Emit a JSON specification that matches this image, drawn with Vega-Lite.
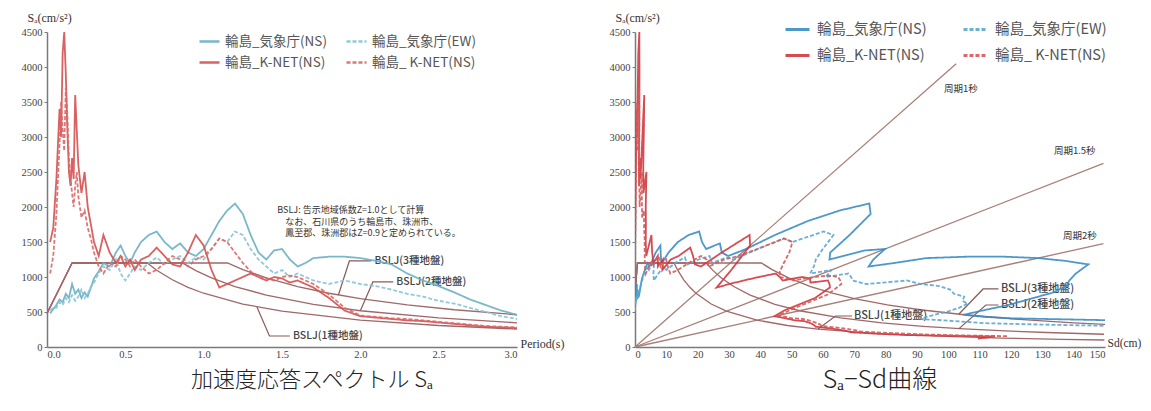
{
"$schema":"https://vega.github.io/schema/vega-lite/v6.json",
"background":"white",
"padding":{"left":21,"top":11,"right":0,"bottom":0},
"spacing":45,
"config":{"view":{"stroke":null},
"axis":{"domainColor":"#7a7a7a","domainWidth":1.5,"tickColor":"#7a7a7a","tickSize":3,"labelFont":"Liberation Serif","labelFontSize":10.5,"labelColor":"#444","grid":false,"titleFont":"Liberation Serif","titleFontSize":12,"titleFontWeight":"normal","titleColor":"#333","labelPadding":2}},
"datasets":{
"sp":[
{"s":"JN","T":0.02,"Sa":480,"Sd":0.005},{"s":"JN","T":0.04,"Sa":540,"Sd":0.022},{"s":"JN","T":0.06,"Sa":600,"Sd":0.055},{"s":"JN","T":0.08,"Sa":680,"Sd":0.11},{"s":"JN","T":0.10,"Sa":640,"Sd":0.162},{"s":"JN","T":0.12,"Sa":760,"Sd":0.277},{"s":"JN","T":0.14,"Sa":700,"Sd":0.347},{"s":"JN","T":0.16,"Sa":900,"Sd":0.583},{"s":"JN","T":0.18,"Sa":760,"Sd":0.624},{"s":"JN","T":0.20,"Sa":820,"Sd":0.831},{"s":"JN","T":0.22,"Sa":700,"Sd":0.858},{"s":"JN","T":0.24,"Sa":780,"Sd":1.138},{"s":"JN","T":0.26,"Sa":720,"Sd":1.233},{"s":"JN","T":0.28,"Sa":850,"Sd":1.688},{"s":"JN","T":0.30,"Sa":980,"Sd":2.234},{"s":"JN","T":0.33,"Sa":1080,"Sd":2.979},{"s":"JN","T":0.36,"Sa":1200,"Sd":3.94},{"s":"JN","T":0.40,"Sa":1150,"Sd":4.661},{"s":"JN","T":0.44,"Sa":1350,"Sd":6.62},{"s":"JN","T":0.47,"Sa":1450,"Sd":8.114},{"s":"JN","T":0.50,"Sa":1300,"Sd":8.233},{"s":"JN","T":0.53,"Sa":1200,"Sd":8.538},{"s":"JN","T":0.56,"Sa":1350,"Sd":10.72},{"s":"JN","T":0.60,"Sa":1500,"Sd":13.68},{"s":"JN","T":0.65,"Sa":1600,"Sd":17.12},{"s":"JN","T":0.70,"Sa":1650,"Sd":20.48},{"s":"JN","T":0.75,"Sa":1500,"Sd":21.37},{"s":"JN","T":0.80,"Sa":1400,"Sd":22.7},{"s":"JN","T":0.85,"Sa":1480,"Sd":27.09},{"s":"JN","T":0.90,"Sa":1350,"Sd":27.7},{"s":"JN","T":0.95,"Sa":1300,"Sd":29.72},{"s":"JN","T":1.00,"Sa":1400,"Sd":35.46},{"s":"JN","T":1.05,"Sa":1600,"Sd":44.68},{"s":"JN","T":1.10,"Sa":1800,"Sd":55.17},{"s":"JN","T":1.15,"Sa":1950,"Sd":65.33},{"s":"JN","T":1.20,"Sa":2050,"Sd":74.78},{"s":"JN","T":1.25,"Sa":1900,"Sd":75.2},{"s":"JN","T":1.30,"Sa":1600,"Sd":68.49},{"s":"JN","T":1.35,"Sa":1350,"Sd":62.32},{"s":"JN","T":1.40,"Sa":1250,"Sd":62.06},{"s":"JN","T":1.45,"Sa":1380,"Sd":73.5},{"s":"JN","T":1.50,"Sa":1400,"Sd":79.79},{"s":"JN","T":1.55,"Sa":1250,"Sd":76.07},{"s":"JN","T":1.60,"Sa":1150,"Sd":74.57},{"s":"JN","T":1.65,"Sa":1200,"Sd":82.76},{"s":"JN","T":1.70,"Sa":1270,"Sd":92.97},{"s":"JN","T":1.80,"Sa":1290,"Sd":105.87},{"s":"JN","T":1.90,"Sa":1290,"Sd":117.96},{"s":"JN","T":2.00,"Sa":1270,"Sd":128.68},{"s":"JN","T":2.10,"Sa":1230,"Sd":137.4},{"s":"JN","T":2.20,"Sa":1180,"Sd":144.67},{"s":"JN","T":2.30,"Sa":1050,"Sd":140.7},{"s":"JN","T":2.40,"Sa":950,"Sd":138.61},{"s":"JN","T":2.50,"Sa":870,"Sd":137.73},{"s":"JN","T":2.60,"Sa":780,"Sd":133.56},{"s":"JN","T":2.70,"Sa":680,"Sd":125.57},{"s":"JN","T":2.80,"Sa":600,"Sd":119.15},{"s":"JN","T":2.90,"Sa":520,"Sd":110.78},{"s":"JN","T":3.00,"Sa":460,"Sd":104.87},{"s":"JN","T":3.20,"Sa":430,"Sd":111.54},{"s":"JN","T":3.40,"Sa":410,"Sd":120.06},{"s":"JN","T":3.60,"Sa":400,"Sd":131.31},{"s":"JN","T":3.80,"Sa":390,"Sd":142.65},{"s":"JN","T":4.00,"Sa":380,"Sd":154.01},
{"s":"JE","T":0.02,"Sa":520,"Sd":0.005},{"s":"JE","T":0.04,"Sa":560,"Sd":0.023},{"s":"JE","T":0.06,"Sa":560,"Sd":0.051},{"s":"JE","T":0.08,"Sa":640,"Sd":0.104},{"s":"JE","T":0.10,"Sa":600,"Sd":0.152},{"s":"JE","T":0.12,"Sa":700,"Sd":0.256},{"s":"JE","T":0.14,"Sa":640,"Sd":0.317},{"s":"JE","T":0.16,"Sa":740,"Sd":0.48},{"s":"JE","T":0.18,"Sa":660,"Sd":0.542},{"s":"JE","T":0.20,"Sa":720,"Sd":0.729},{"s":"JE","T":0.22,"Sa":820,"Sd":1.005},{"s":"JE","T":0.24,"Sa":700,"Sd":1.021},{"s":"JE","T":0.26,"Sa":760,"Sd":1.301},{"s":"JE","T":0.28,"Sa":860,"Sd":1.708},{"s":"JE","T":0.30,"Sa":920,"Sd":2.098},{"s":"JE","T":0.33,"Sa":1050,"Sd":2.896},{"s":"JE","T":0.36,"Sa":1150,"Sd":3.775},{"s":"JE","T":0.40,"Sa":1100,"Sd":4.458},{"s":"JE","T":0.44,"Sa":1250,"Sd":6.13},{"s":"JE","T":0.47,"Sa":1050,"Sd":5.876},{"s":"JE","T":0.50,"Sa":950,"Sd":6.016},{"s":"JE","T":0.53,"Sa":1050,"Sd":7.471},{"s":"JE","T":0.56,"Sa":1150,"Sd":9.136},{"s":"JE","T":0.60,"Sa":1100,"Sd":10.03},{"s":"JE","T":0.65,"Sa":1200,"Sd":12.84},{"s":"JE","T":0.70,"Sa":1280,"Sd":15.89},{"s":"JE","T":0.75,"Sa":1180,"Sd":16.81},{"s":"JE","T":0.80,"Sa":1250,"Sd":20.26},{"s":"JE","T":0.85,"Sa":1300,"Sd":23.79},{"s":"JE","T":0.90,"Sa":1200,"Sd":24.62},{"s":"JE","T":0.95,"Sa":1280,"Sd":29.26},{"s":"JE","T":1.00,"Sa":1250,"Sd":31.66},{"s":"JE","T":1.05,"Sa":1400,"Sd":39.1},{"s":"JE","T":1.10,"Sa":1550,"Sd":47.51},{"s":"JE","T":1.15,"Sa":1500,"Sd":50.25},{"s":"JE","T":1.20,"Sa":1650,"Sd":60.19},{"s":"JE","T":1.25,"Sa":1600,"Sd":63.33},{"s":"JE","T":1.30,"Sa":1400,"Sd":59.93},{"s":"JE","T":1.35,"Sa":1250,"Sd":57.71},{"s":"JE","T":1.40,"Sa":1150,"Sd":57.1},{"s":"JE","T":1.45,"Sa":1050,"Sd":55.92},{"s":"JE","T":1.50,"Sa":1100,"Sd":62.69},{"s":"JE","T":1.55,"Sa":1000,"Sd":60.86},{"s":"JE","T":1.60,"Sa":1050,"Sd":68.09},{"s":"JE","T":1.65,"Sa":1000,"Sd":68.96},{"s":"JE","T":1.70,"Sa":950,"Sd":69.54},{"s":"JE","T":1.80,"Sa":900,"Sd":73.86},{"s":"JE","T":1.90,"Sa":950,"Sd":86.87},{"s":"JE","T":2.00,"Sa":900,"Sd":91.19},{"s":"JE","T":2.10,"Sa":870,"Sd":97.19},{"s":"JE","T":2.20,"Sa":820,"Sd":100.53},{"s":"JE","T":2.30,"Sa":760,"Sd":101.84},{"s":"JE","T":2.40,"Sa":720,"Sd":105.05},{"s":"JE","T":2.50,"Sa":660,"Sd":104.49},{"s":"JE","T":2.60,"Sa":620,"Sd":106.17},{"s":"JE","T":2.70,"Sa":560,"Sd":103.41},{"s":"JE","T":2.80,"Sa":500,"Sd":99.3},{"s":"JE","T":2.90,"Sa":440,"Sd":93.73},{"s":"JE","T":3.00,"Sa":400,"Sd":91.19},{"s":"JE","T":3.20,"Sa":380,"Sd":98.57},{"s":"JE","T":3.40,"Sa":360,"Sd":105.42},{"s":"JE","T":3.60,"Sa":340,"Sd":111.62},{"s":"JE","T":3.80,"Sa":330,"Sd":120.71},{"s":"JE","T":4.00,"Sa":320,"Sd":129.69},{"s":"JE","T":4.50,"Sa":300,"Sd":153.88},
{"s":"KN","T":0.02,"Sa":1500,"Sd":0.015},{"s":"KN","T":0.04,"Sa":1700,"Sd":0.069},{"s":"KN","T":0.06,"Sa":2400,"Sd":0.219},{"s":"KN","T":0.08,"Sa":3400,"Sd":0.551},{"s":"KN","T":0.09,"Sa":3000,"Sd":0.616},{"s":"KN","T":0.10,"Sa":4200,"Sd":1.063},{"s":"KN","T":0.11,"Sa":4500,"Sd":1.379},{"s":"KN","T":0.12,"Sa":3900,"Sd":1.424},{"s":"KN","T":0.13,"Sa":3100,"Sd":1.327},{"s":"KN","T":0.14,"Sa":2500,"Sd":1.24},{"s":"KN","T":0.15,"Sa":2300,"Sd":1.311},{"s":"KN","T":0.16,"Sa":2700,"Sd":1.75},{"s":"KN","T":0.17,"Sa":2400,"Sd":1.757},{"s":"KN","T":0.18,"Sa":3600,"Sd":2.956},{"s":"KN","T":0.19,"Sa":3100,"Sd":2.835},{"s":"KN","T":0.20,"Sa":2600,"Sd":2.634},{"s":"KN","T":0.22,"Sa":2200,"Sd":2.697},{"s":"KN","T":0.24,"Sa":2500,"Sd":3.648},{"s":"KN","T":0.26,"Sa":2000,"Sd":3.424},{"s":"KN","T":0.28,"Sa":1750,"Sd":3.476},{"s":"KN","T":0.30,"Sa":1500,"Sd":3.42},{"s":"KN","T":0.33,"Sa":1300,"Sd":3.585},{"s":"KN","T":0.36,"Sa":1600,"Sd":5.253},{"s":"KN","T":0.40,"Sa":1350,"Sd":5.472},{"s":"KN","T":0.44,"Sa":1200,"Sd":5.885},{"s":"KN","T":0.47,"Sa":1300,"Sd":7.275},{"s":"KN","T":0.50,"Sa":1150,"Sd":7.283},{"s":"KN","T":0.53,"Sa":1250,"Sd":8.894},{"s":"KN","T":0.56,"Sa":1100,"Sd":8.738},{"s":"KN","T":0.60,"Sa":1250,"Sd":11.4},{"s":"KN","T":0.65,"Sa":1300,"Sd":13.91},{"s":"KN","T":0.70,"Sa":1420,"Sd":17.63},{"s":"KN","T":0.75,"Sa":1300,"Sd":18.52},{"s":"KN","T":0.80,"Sa":1180,"Sd":19.13},{"s":"KN","T":0.85,"Sa":1150,"Sd":21.05},{"s":"KN","T":0.90,"Sa":1350,"Sd":27.7},{"s":"KN","T":0.95,"Sa":1600,"Sd":36.58},{"s":"KN","T":1.00,"Sa":1450,"Sd":36.73},{"s":"KN","T":1.05,"Sa":1100,"Sd":30.72},{"s":"KN","T":1.10,"Sa":850,"Sd":26.05},{"s":"KN","T":1.15,"Sa":900,"Sd":30.15},{"s":"KN","T":1.20,"Sa":950,"Sd":34.65},{"s":"KN","T":1.25,"Sa":1000,"Sd":39.58},{"s":"KN","T":1.30,"Sa":1050,"Sd":44.95},{"s":"KN","T":1.35,"Sa":1000,"Sd":46.17},{"s":"KN","T":1.40,"Sa":950,"Sd":47.17},{"s":"KN","T":1.45,"Sa":1000,"Sd":53.26},{"s":"KN","T":1.50,"Sa":980,"Sd":55.85},{"s":"KN","T":1.55,"Sa":920,"Sd":55.99},{"s":"KN","T":1.60,"Sa":950,"Sd":61.6},{"s":"KN","T":1.65,"Sa":900,"Sd":62.07},{"s":"KN","T":1.70,"Sa":850,"Sd":62.22},{"s":"KN","T":1.80,"Sa":700,"Sd":57.45},{"s":"KN","T":1.90,"Sa":520,"Sd":47.55},{"s":"KN","T":2.00,"Sa":440,"Sd":44.58},{"s":"KN","T":2.10,"Sa":420,"Sd":46.92},{"s":"KN","T":2.20,"Sa":400,"Sd":49.04},{"s":"KN","T":2.30,"Sa":380,"Sd":50.92},{"s":"KN","T":2.40,"Sa":370,"Sd":53.98},{"s":"KN","T":2.50,"Sa":350,"Sd":55.41},{"s":"KN","T":2.60,"Sa":330,"Sd":56.51},{"s":"KN","T":2.70,"Sa":310,"Sd":57.24},{"s":"KN","T":2.80,"Sa":290,"Sd":57.59},{"s":"KN","T":2.90,"Sa":280,"Sd":59.65},{"s":"KN","T":3.00,"Sa":270,"Sd":61.55},{"s":"KN","T":3.20,"Sa":250,"Sd":64.85},{"s":"KN","T":3.40,"Sa":230,"Sd":67.35},{"s":"KN","T":3.60,"Sa":210,"Sd":68.94},{"s":"KN","T":3.80,"Sa":200,"Sd":73.15},{"s":"KN","T":4.00,"Sa":190,"Sd":77.0},{"s":"KN","T":4.50,"Sa":170,"Sd":87.2},{"s":"KN","T":5.00,"Sa":160,"Sd":101.32},{"s":"KN","T":5.50,"Sa":150,"Sd":114.94},{"s":"KN","T":6.00,"Sa":120,"Sd":109.43},
{"s":"KE","T":0.02,"Sa":1050,"Sd":0.011},{"s":"KE","T":0.04,"Sa":1300,"Sd":0.053},{"s":"KE","T":0.06,"Sa":1900,"Sd":0.173},{"s":"KE","T":0.08,"Sa":2900,"Sd":0.47},{"s":"KE","T":0.09,"Sa":3500,"Sd":0.718},{"s":"KE","T":0.10,"Sa":3100,"Sd":0.784},{"s":"KE","T":0.11,"Sa":2800,"Sd":0.858},{"s":"KE","T":0.12,"Sa":3700,"Sd":1.351},{"s":"KE","T":0.13,"Sa":3300,"Sd":1.413},{"s":"KE","T":0.14,"Sa":2700,"Sd":1.339},{"s":"KE","T":0.15,"Sa":2400,"Sd":1.368},{"s":"KE","T":0.16,"Sa":2200,"Sd":1.426},{"s":"KE","T":0.17,"Sa":2000,"Sd":1.464},{"s":"KE","T":0.18,"Sa":2300,"Sd":1.888},{"s":"KE","T":0.19,"Sa":2500,"Sd":2.286},{"s":"KE","T":0.20,"Sa":2150,"Sd":2.178},{"s":"KE","T":0.22,"Sa":1850,"Sd":2.268},{"s":"KE","T":0.24,"Sa":1950,"Sd":2.845},{"s":"KE","T":0.26,"Sa":1700,"Sd":2.91},{"s":"KE","T":0.28,"Sa":1550,"Sd":3.078},{"s":"KE","T":0.30,"Sa":1350,"Sd":3.078},{"s":"KE","T":0.33,"Sa":1150,"Sd":3.172},{"s":"KE","T":0.36,"Sa":1050,"Sd":3.447},{"s":"KE","T":0.40,"Sa":1200,"Sd":4.864},{"s":"KE","T":0.44,"Sa":1150,"Sd":5.64},{"s":"KE","T":0.47,"Sa":1300,"Sd":7.275},{"s":"KE","T":0.50,"Sa":1250,"Sd":7.916},{"s":"KE","T":0.53,"Sa":1150,"Sd":8.182},{"s":"KE","T":0.56,"Sa":1250,"Sd":9.93},{"s":"KE","T":0.60,"Sa":1150,"Sd":10.49},{"s":"KE","T":0.65,"Sa":1050,"Sd":11.24},{"s":"KE","T":0.70,"Sa":1100,"Sd":13.65},{"s":"KE","T":0.75,"Sa":1200,"Sd":17.1},{"s":"KE","T":0.80,"Sa":1300,"Sd":21.07},{"s":"KE","T":0.85,"Sa":1250,"Sd":22.88},{"s":"KE","T":0.90,"Sa":1150,"Sd":23.6},{"s":"KE","T":0.95,"Sa":1250,"Sd":28.58},{"s":"KE","T":1.00,"Sa":1300,"Sd":32.93},{"s":"KE","T":1.05,"Sa":1400,"Sd":39.1},{"s":"KE","T":1.10,"Sa":1550,"Sd":47.51},{"s":"KE","T":1.15,"Sa":1500,"Sd":50.25},{"s":"KE","T":1.20,"Sa":1350,"Sd":49.24},{"s":"KE","T":1.25,"Sa":1200,"Sd":47.49},{"s":"KE","T":1.30,"Sa":1080,"Sd":46.23},{"s":"KE","T":1.35,"Sa":1000,"Sd":46.17},{"s":"KE","T":1.40,"Sa":980,"Sd":48.66},{"s":"KE","T":1.45,"Sa":950,"Sd":50.6},{"s":"KE","T":1.50,"Sa":1000,"Sd":56.99},{"s":"KE","T":1.55,"Sa":1020,"Sd":62.07},{"s":"KE","T":1.60,"Sa":1000,"Sd":64.85},{"s":"KE","T":1.65,"Sa":950,"Sd":65.51},{"s":"KE","T":1.70,"Sa":900,"Sd":65.88},{"s":"KE","T":1.80,"Sa":750,"Sd":61.55},{"s":"KE","T":1.90,"Sa":560,"Sd":51.21},{"s":"KE","T":2.00,"Sa":450,"Sd":45.59},{"s":"KE","T":2.10,"Sa":430,"Sd":48.03},{"s":"KE","T":2.20,"Sa":410,"Sd":50.27},{"s":"KE","T":2.30,"Sa":400,"Sd":53.6},{"s":"KE","T":2.40,"Sa":380,"Sd":55.44},{"s":"KE","T":2.50,"Sa":360,"Sd":56.99},{"s":"KE","T":2.60,"Sa":340,"Sd":58.22},{"s":"KE","T":2.70,"Sa":320,"Sd":59.09},{"s":"KE","T":2.80,"Sa":300,"Sd":59.58},{"s":"KE","T":2.90,"Sa":290,"Sd":61.78},{"s":"KE","T":3.00,"Sa":280,"Sd":63.83},{"s":"KE","T":3.20,"Sa":260,"Sd":67.44},{"s":"KE","T":3.40,"Sa":240,"Sd":70.28},{"s":"KE","T":3.60,"Sa":220,"Sd":72.22},{"s":"KE","T":3.80,"Sa":210,"Sd":76.81},{"s":"KE","T":4.00,"Sa":200,"Sd":81.06},{"s":"KE","T":4.50,"Sa":180,"Sd":92.33},{"s":"KE","T":5.00,"Sa":165,"Sd":104.49},{"s":"KE","T":5.50,"Sa":155,"Sd":118.77},{"s":"KE","T":6.00,"Sa":130,"Sd":118.55}
],
"bs":[
{"g":1,"T":0,"Sa":480,"Sd":0},{"g":1,"T":0.08,"Sa":840,"Sd":0.136},{"g":1,"T":0.16,"Sa":1200,"Sd":0.778},{"g":1,"T":0.64,"Sa":1200,"Sd":12.45},{"g":1,"T":0.7,"Sa":1097,"Sd":13.62},{"g":1,"T":0.8,"Sa":960,"Sd":15.56},{"g":1,"T":0.9,"Sa":853,"Sd":17.51},{"g":1,"T":1.0,"Sa":768,"Sd":19.45},{"g":1,"T":1.25,"Sa":614,"Sd":24.32},{"g":1,"T":1.5,"Sa":512,"Sd":29.18},{"g":1,"T":2.0,"Sa":384,"Sd":38.91},{"g":1,"T":2.5,"Sa":307,"Sd":48.64},{"g":1,"T":3.0,"Sa":256,"Sd":58.36},{"g":1,"T":4.0,"Sa":192,"Sd":77.82},{"g":1,"T":5.0,"Sa":154,"Sd":97.27},{"g":1,"T":6.0,"Sa":128,"Sd":116.72},{"g":1,"T":7.0,"Sa":110,"Sd":136.18},{"g":1,"T":7.7,"Sa":100,"Sd":149.8},
{"g":2,"T":0,"Sa":480,"Sd":0},{"g":2,"T":0.08,"Sa":840,"Sd":0.136},{"g":2,"T":0.16,"Sa":1200,"Sd":0.778},{"g":2,"T":0.864,"Sa":1200,"Sd":22.69},{"g":2,"T":0.95,"Sa":1091,"Sd":24.95},{"g":2,"T":1.05,"Sa":987,"Sd":27.58},{"g":2,"T":1.2,"Sa":864,"Sd":31.52},{"g":2,"T":1.4,"Sa":741,"Sd":36.77},{"g":2,"T":1.7,"Sa":610,"Sd":44.65},{"g":2,"T":2.0,"Sa":518,"Sd":52.53},{"g":2,"T":2.5,"Sa":415,"Sd":65.66},{"g":2,"T":3.0,"Sa":346,"Sd":78.79},{"g":2,"T":3.5,"Sa":296,"Sd":91.92},{"g":2,"T":4.0,"Sa":259,"Sd":105.05},{"g":2,"T":4.5,"Sa":230,"Sd":118.18},{"g":2,"T":5.0,"Sa":207,"Sd":131.32},{"g":2,"T":5.7,"Sa":182,"Sd":149.7},
{"g":3,"T":0,"Sa":480,"Sd":0},{"g":3,"T":0.08,"Sa":840,"Sd":0.136},{"g":3,"T":0.16,"Sa":1200,"Sd":0.778},{"g":3,"T":1.152,"Sa":1200,"Sd":40.34},{"g":3,"T":1.25,"Sa":1106,"Sd":43.77},{"g":3,"T":1.4,"Sa":987,"Sd":49.02},{"g":3,"T":1.6,"Sa":864,"Sd":56.03},{"g":3,"T":1.8,"Sa":768,"Sd":63.03},{"g":3,"T":2.0,"Sa":691,"Sd":70.03},{"g":3,"T":2.3,"Sa":601,"Sd":80.54},{"g":3,"T":2.6,"Sa":532,"Sd":91.04},{"g":3,"T":3.0,"Sa":461,"Sd":105.05},{"g":3,"T":3.5,"Sa":395,"Sd":122.56},{"g":3,"T":4.0,"Sa":346,"Sd":140.07},{"g":3,"T":4.3,"Sa":321,"Sd":150.57}
]
},
"resolve":{"scale":{"x":"independent","y":"independent","color":"independent","strokeDash":"independent"},"legend":{"color":"independent","strokeDash":"independent"}},
"hconcat":[
{
"width":470,"height":315,
"title":{"text":"加速度応答スペクトル Sₐ","orient":"bottom","anchor":"middle","frame":"group","dx":30,"offset":10,"font":"Noto Sans CJK JP","fontSize":22,"fontWeight":300,"color":"#222"},
"encoding":{
"x":{"field":"T","type":"quantitative","scale":{"domain":[0,3],"nice":false,"zero":false},"axis":{"values":[0,0.5,1,1.5,2,2.5,3],"format":".1f","title":"Period(s)","titleX":473,"titleY":-4,"titleAlign":"left","titleBaseline":"middle","ticks":false}},
"y":{"field":"Sa","type":"quantitative","scale":{"domain":[0,4500],"nice":false},"axis":{"values":[0,500,1000,1500,2000,2500,3000,3500,4000,4500],"format":"d","title":"Sₐ(cm/s²)","titleAngle":0,"titleX":-20,"titleY":-15,"titleAlign":"left","titleBaseline":"middle"}}
},
"layer":[
{"data":{"name":"bs"},"transform":[{"filter":"datum.T <= 3"}],"mark":{"type":"line","color":"#a06868","strokeWidth":1.3},"encoding":{"detail":{"field":"g"},"order":{"field":"T","type":"quantitative"}}},
{"data":{"values":[{"id":1,"o":1,"T":1.34,"Sa":573},{"id":1,"o":2,"T":1.42,"Sa":157},{"id":1,"o":3,"T":1.55,"Sa":157},{"id":3,"o":1,"T":1.86,"Sa":743},{"id":3,"o":2,"T":1.93,"Sa":1229},{"id":3,"o":3,"T":2.07,"Sa":1229},{"id":2,"o":1,"T":2.0,"Sa":518},{"id":2,"o":2,"T":2.08,"Sa":929},{"id":2,"o":3,"T":2.21,"Sa":929}]},"mark":{"type":"line","color":"#8a5a5a","strokeWidth":1.2},"encoding":{"detail":{"field":"id"},"order":{"field":"o","type":"quantitative"}}},
{"data":{"values":[{"T":1.57,"Sa":157,"t":"BSLJ(1種地盤)"},{"T":2.09,"Sa":1229,"t":"BSLJ(3種地盤)"},{"T":2.23,"Sa":929,"t":"BSLJ(2種地盤)"}]},"mark":{"type":"text","align":"left","baseline":"middle","font":"Noto Sans CJK JP","fontSize":10.5,"fontWeight":500,"color":"#444"},"encoding":{"text":{"field":"t"}}},
{"data":{"values":[{"T":1.47,"Sa":1955,"t":"BSLJ: 告示地域係数Z=1.0として計算"},{"T":1.52,"Sa":1790,"t":"なお、石川県のうち輪島市、珠洲市、"},{"T":1.52,"Sa":1625,"t":"鳳至郡、珠洲郡はZ=0.9と定められている。"}]},"mark":{"type":"text","align":"left","baseline":"middle","font":"Noto Sans CJK JP","fontSize":9,"color":"#333"},"encoding":{"text":{"field":"t"}}},
{"data":{"name":"sp"},"transform":[{"filter":"datum.T <= 3"}],"mark":{"type":"line","strokeWidth":1.8,"opacity":0.9},
"encoding":{
"color":{"field":"s","type":"nominal","scale":{"domain":["JN","KN","JE","KE"],"range":["#6ab0c4","#d65050","#86c4d6","#dc6868"]},
"legend":{"title":null,"orient":"none","legendX":151,"legendY":-2,"columns":2,"symbolType":"stroke","symbolSize":400,"symbolStrokeWidth":2.5,"labelFont":"Noto Sans CJK JP","labelFontSize":13.5,"labelColor":"#555","rowPadding":3,"columnPadding":14,"labelOffset":4,"padding":0,"labelLimit":300,
"labelExpr":"datum.label=='JN'?'輪島_気象庁(NS)':datum.label=='JE'?'輪島_気象庁(EW)':datum.label=='KN'?'輪島_K-NET(NS)':'輪島_ K-NET(NS)'"}},
"strokeDash":{"field":"s","type":"nominal","scale":{"domain":["JN","KN","JE","KE"],"range":[[1,0],[1,0],[4,2],[4,2]]}},
"order":{"field":"T","type":"quantitative"}}}
]
},
{
"width":470,"height":315,
"title":{"text":"Sₐ−Sd曲線","orient":"bottom","anchor":"middle","frame":"group","dx":10,"offset":8,"font":"Noto Sans CJK JP","fontSize":25,"fontWeight":300,"color":"#222"},
"encoding":{
"x":{"field":"Sd","type":"quantitative","scale":{"domain":[0,150],"nice":false,"zero":false},"axis":{"values":[0,10,20,30,40,50,60,70,80,90,100,110,120,130,140,150],"title":"Sd(cm)","titleX":472,"titleY":-4,"titleAlign":"left","titleBaseline":"middle","titleFontSize":11.5,"ticks":false}},
"y":{"field":"Sa","type":"quantitative","scale":{"domain":[0,4500],"nice":false},"axis":{"values":[0,500,1000,1500,2000,2500,3000,3500,4000,4500],"format":"d","title":"Sₐ(cm/s²)","titleAngle":0,"titleX":-20,"titleY":-15,"titleAlign":"left","titleBaseline":"middle"}}
},
"layer":[
{"data":{"values":[{"p":1,"Sd":0,"Sa":0},{"p":1,"Sd":102.5,"Sa":4046},{"p":1.5,"Sd":0,"Sa":0},{"p":1.5,"Sd":149.5,"Sa":2623},{"p":2,"Sd":0,"Sa":0},{"p":2,"Sd":149.5,"Sa":1476}]},"mark":{"type":"line","color":"#a88078","strokeWidth":1.3},"encoding":{"detail":{"field":"p"}}},
{"data":{"values":[{"Sd":98.6,"Sa":3686,"t":"周期1秒"},{"Sd":133.7,"Sa":2800,"t":"周期1.5秒"},{"Sd":136.6,"Sa":1586,"t":"周期2秒"}]},"mark":{"type":"text","align":"left","baseline":"middle","font":"Noto Sans CJK JP","fontSize":9.5,"color":"#333"},"encoding":{"text":{"field":"t"}}},
{"data":{"name":"bs"},"mark":{"type":"line","color":"#a06868","strokeWidth":1.3,"clip":true},"encoding":{"detail":{"field":"g"},"order":{"field":"T","type":"quantitative"}}},
{"data":{"values":[{"id":1,"o":1,"Sd":58.4,"Sa":256},{"id":1,"o":2,"Sd":64,"Sa":443},{"id":1,"o":3,"Sd":69.3,"Sa":443},{"id":3,"o":1,"Sd":103.4,"Sa":471},{"id":3,"o":2,"Sd":111.1,"Sa":829},{"id":3,"o":3,"Sd":116,"Sa":829},{"id":2,"o":1,"Sd":103.4,"Sa":263},{"id":2,"o":2,"Sd":112,"Sa":600},{"id":2,"o":3,"Sd":116,"Sa":600}]},"mark":{"type":"line","color":"#8a5a5a","strokeWidth":1.2},"encoding":{"detail":{"field":"id"},"order":{"field":"o","type":"quantitative"}}},
{"data":{"values":[{"Sd":69.9,"Sa":443,"t":"BSLJ(1種地盤)"},{"Sd":116.8,"Sa":829,"t":"BSLJ(3種地盤)"},{"Sd":116.8,"Sa":600,"t":"BSLJ(2種地盤)"}]},"mark":{"type":"text","align":"left","baseline":"middle","font":"Noto Sans CJK JP","fontSize":11,"fontWeight":500,"color":"#444"},"encoding":{"text":{"field":"t"}}},
{"data":{"name":"sp"},"mark":{"type":"line","strokeWidth":1.8,"opacity":0.9,"clip":true},
"encoding":{
"color":{"field":"s","type":"nominal","scale":{"domain":["JN","KN","JE","KE"],"range":["#3a8dc5","#d0393f","#5aa7d0","#d65a5a"]},
"legend":{"title":null,"orient":"none","legendX":149,"legendY":-16,"columns":2,"symbolType":"stroke","symbolSize":576,"symbolStrokeWidth":3,"labelFont":"Noto Sans CJK JP","labelFontSize":14.5,"labelColor":"#555","rowPadding":6,"columnPadding":30,"labelOffset":6,"padding":0,"labelLimit":300,
"labelExpr":"datum.label=='JN'?'輪島_気象庁(NS)':datum.label=='JE'?'輪島_気象庁(EW)':datum.label=='KN'?'輪島_K-NET(NS)':'輪島_ K-NET(NS)'"}},
"strokeDash":{"field":"s","type":"nominal","scale":{"domain":["JN","KN","JE","KE"],"range":[[1,0],[1,0],[4,2],[4,2]]}},
"order":{"field":"T","type":"quantitative"}}}
]
}
]
}
